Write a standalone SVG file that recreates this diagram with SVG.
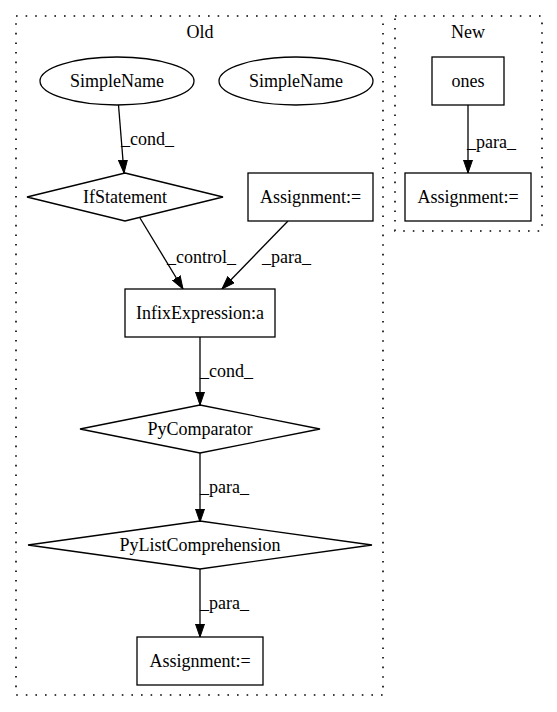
<svg xmlns="http://www.w3.org/2000/svg" width="557" height="712" viewBox="0 0 557 712">
<defs>
<style>
text{font-family:'Liberation Serif','Times New Roman',Times,'DejaVu Serif',serif;font-size:18px;fill:#000}
.n{text-anchor:middle}
.shape{fill:#fff;stroke:#000;stroke-width:1.3}
.cl{fill:none;stroke:#000;stroke-width:1.6;stroke-dasharray:1.6,8}
.e{fill:none;stroke:#000;stroke-width:1.3;marker-end:url(#arr)}
</style>
<marker id="arr" markerUnits="userSpaceOnUse" markerWidth="14" markerHeight="10" refX="13" refY="5" orient="auto">
<path d="M0,0.5 L13,5 L0,9.5 z" fill="#000" stroke="#000" stroke-width="1"/>
</marker>
</defs>
<rect width="557" height="712" fill="#fff"/>
<g font-family="'Liberation Serif','Times New Roman',Times,serif" font-size="18">
<g id="cluster_old">
<rect class="cl" x="16" y="16" width="367" height="679"/>
<text class="n" x="200" y="38">Old</text>
</g>
<g id="cluster_new">
<rect class="cl" x="395" y="16" width="147" height="215"/>
<text class="n" x="468" y="38">New</text>
</g>
<g id="edges">
<line class="e" x1="118.5" y1="105" x2="124" y2="173"/>
<text x="121" y="145">_cond_</text>
<line class="e" x1="140" y1="218" x2="183" y2="289"/>
<text x="167" y="263">_control_</text>
<line class="e" x1="288" y1="221" x2="222" y2="289"/>
<text x="262" y="263">_para_</text>
<line class="e" x1="200" y1="337" x2="200" y2="405"/>
<text x="200" y="377">_cond_</text>
<line class="e" x1="200" y1="453" x2="200" y2="522"/>
<text x="200" y="493">_para_</text>
<line class="e" x1="200" y1="569" x2="200" y2="637"/>
<text x="200" y="609">_para_</text>
<line class="e" x1="468" y1="105" x2="468" y2="173"/>
<text x="467" y="148">_para_</text>
</g>
<g id="simplename1">
<ellipse class="shape" cx="117" cy="81" rx="77" ry="24"/>
<text class="n" x="117" y="87">SimpleName</text>
</g>
<g id="simplename2">
<ellipse class="shape" cx="296" cy="81" rx="77" ry="24"/>
<text class="n" x="296" y="87">SimpleName</text>
</g>
<g id="ifstatement">
<polygon class="shape" points="125,173 223,197 125,221 27,197"/>
<text class="n" x="125" y="203">IfStatement</text>
</g>
<g id="assignment_old1">
<rect class="shape" x="248" y="173" width="125" height="48"/>
<text class="n" x="310.5" y="203">Assignment:=</text>
</g>
<g id="infix">
<rect class="shape" x="125" y="289" width="150" height="48"/>
<text class="n" x="200" y="319">InfixExpression:a</text>
</g>
<g id="pycomparator">
<polygon class="shape" points="200,405 320,429 200,453 80,429"/>
<text class="n" x="200" y="435">PyComparator</text>
</g>
<g id="pylistcomp">
<polygon class="shape" points="200,521 372,545 200,569 28,545"/>
<text class="n" x="200" y="551">PyListComprehension</text>
</g>
<g id="assignment_old2">
<rect class="shape" x="137" y="637" width="126" height="48"/>
<text class="n" x="200" y="667">Assignment:=</text>
</g>
<g id="ones">
<rect class="shape" x="432" y="57" width="72" height="48"/>
<text class="n" x="468" y="87">ones</text>
</g>
<g id="assignment_new">
<rect class="shape" x="405" y="173" width="126" height="48"/>
<text class="n" x="468" y="203">Assignment:=</text>
</g>
</g>
</svg>
